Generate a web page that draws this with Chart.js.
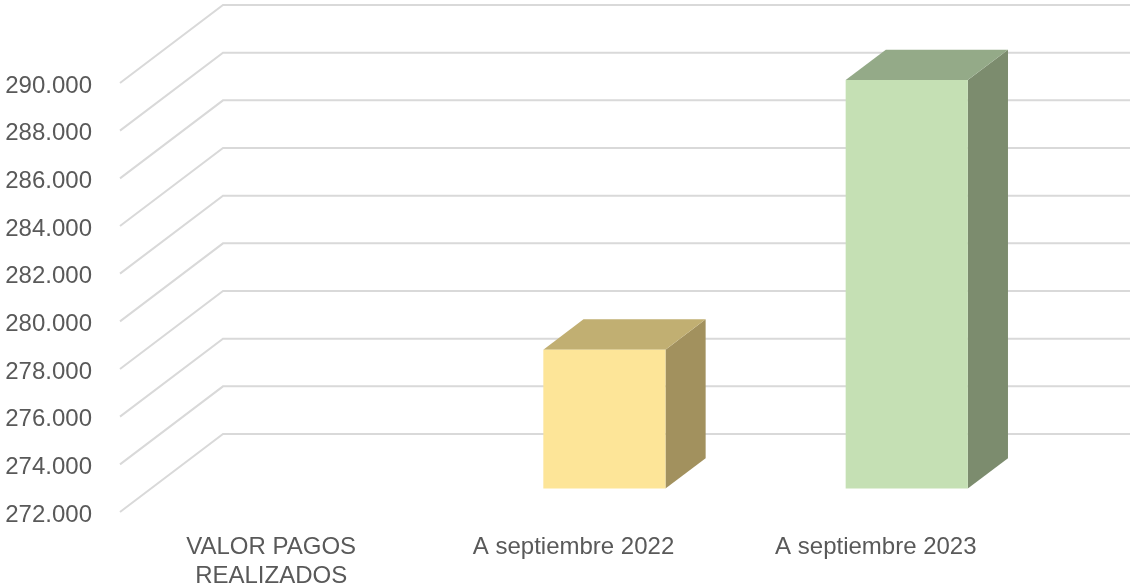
<!DOCTYPE html>
<html>
<head>
<meta charset="utf-8">
<script src="https://cdn.jsdelivr.net/npm/chart.js@4/dist/chart.umd.min.js"></script>
<style>
  html, body { margin: 0; padding: 0; background: #fff; }
  #wrap { width: 1130px; height: 583px; }
</style>
</head>
<body>
<div id="wrap"><canvas id="c"></canvas></div>
<script>
// datos
const categories = [["VALOR PAGOS", "REALIZADOS"], "A septiembre 2022", "A septiembre 2023"];
const values = [null, 277830, 289140];
const yMin = 272000, yMax = 290000, yStep = 2000;

// colores (frente, tapa, lateral)
const frontColors = ["#fde598", "#fde598", "#c5e0b4"];
const topColors   = ["#c1af72", "#c1af72", "#94aa88"];
const sideColors  = ["#a2915e", "#a2915e", "#7c8c6e"];

// perspectiva 3D: desplazamiento del plano trasero
const DX = 103, DY = -78;
const D_FRONT = 0.30, D_BACK = 0.69;

function fmtMiles(v) { return String(v).replace(/\B(?=(\d{3})+(?!\d))/g, "."); }

function poly(ctx, pts, fill) {
  ctx.beginPath();
  ctx.moveTo(pts[0][0], pts[0][1]);
  for (let i = 1; i < pts.length; i++) ctx.lineTo(pts[i][0], pts[i][1]);
  ctx.closePath();
  ctx.fillStyle = fill;
  ctx.fill();
}

const grid3d = {
  id: "grid3d",
  beforeDatasetsDraw(chart) {
    const { ctx, chartArea, scales } = chart;
    const y = scales.y;
    ctx.save();
    ctx.strokeStyle = "#d9d9d9";
    ctx.lineWidth = 2;
    y.ticks.forEach(t => {
      const py = y.getPixelForValue(t.value);
      ctx.beginPath();
      ctx.moveTo(chartArea.left, py);
      ctx.lineTo(chartArea.left + DX, py + DY);
      ctx.lineTo(chartArea.right + DX, py + DY);
      ctx.stroke();
    });
    ctx.restore();
  }
};

const bars3d = {
  id: "bars3d",
  afterDatasetsDraw(chart) {
    const { ctx } = chart;
    const meta = chart.getDatasetMeta(0);
    const bottom = chart.scales.y.getPixelForValue(yMin);
    ctx.save();
    meta.data.forEach((bar, i) => {
      if (values[i] === null || values[i] === undefined) return;
      const p = bar.getProps(["x", "y", "base", "width"], true);
      const base = Math.min(p.base, bottom);
      const x0 = p.x - p.width / 2, x1 = p.x + p.width / 2;
      const fx = D_FRONT * DX, fy = D_FRONT * DY;
      const bx = D_BACK * DX, by = D_BACK * DY;
      // lateral
      poly(ctx, [[x1 + fx, p.y + fy], [x1 + bx, p.y + by], [x1 + bx, base + by], [x1 + fx, base + fy]], sideColors[i]);
      // tapa
      poly(ctx, [[x0 + fx, p.y + fy], [x0 + bx, p.y + by], [x1 + bx, p.y + by], [x1 + fx, p.y + fy]], topColors[i]);
      // frente
      poly(ctx, [[x0 + fx, p.y + fy], [x1 + fx, p.y + fy], [x1 + fx, base + fy], [x0 + fx, base + fy]], frontColors[i]);
    });
    ctx.restore();
  }
};

new Chart(document.getElementById("c"), {
  type: "bar",
  data: {
    labels: categories,
    datasets: [{
      data: values,
      base: yMin,
      backgroundColor: "rgba(0,0,0,0)",
      categoryPercentage: 1,
      barPercentage: 0.404
    }]
  },
  options: {
    responsive: true,
    maintainAspectRatio: false,
    animation: false,
    layout: { padding: { top: 83, right: 103, left: 0, bottom: 0 } },
    plugins: { legend: { display: false }, tooltip: { enabled: false } },
    scales: {
      x: {
        grid: { display: false, drawTicks: false },
        border: { display: false },
        ticks: {
          color: "#595959",
          font: { family: "'Century Gothic', 'Liberation Sans', Arial, sans-serif", size: 24 },
          padding: 21,
          maxRotation: 0,
          autoSkip: false
        },
        afterFit(s) { s.height = 71; }
      },
      y: {
        min: yMin,
        max: yMax,
        grid: { display: false, drawTicks: false },
        border: { display: false },
        ticks: {
          stepSize: yStep,
          color: "#595959",
          font: { family: "'Century Gothic', 'Liberation Sans', Arial, sans-serif", size: 24 },
          padding: 28,
          labelOffset: 3,
          callback: v => fmtMiles(v)
        },
        afterFit(s) { s.width = 120; }
      }
    }
  },
  plugins: [grid3d, bars3d]
});
</script>
</body>
</html>
